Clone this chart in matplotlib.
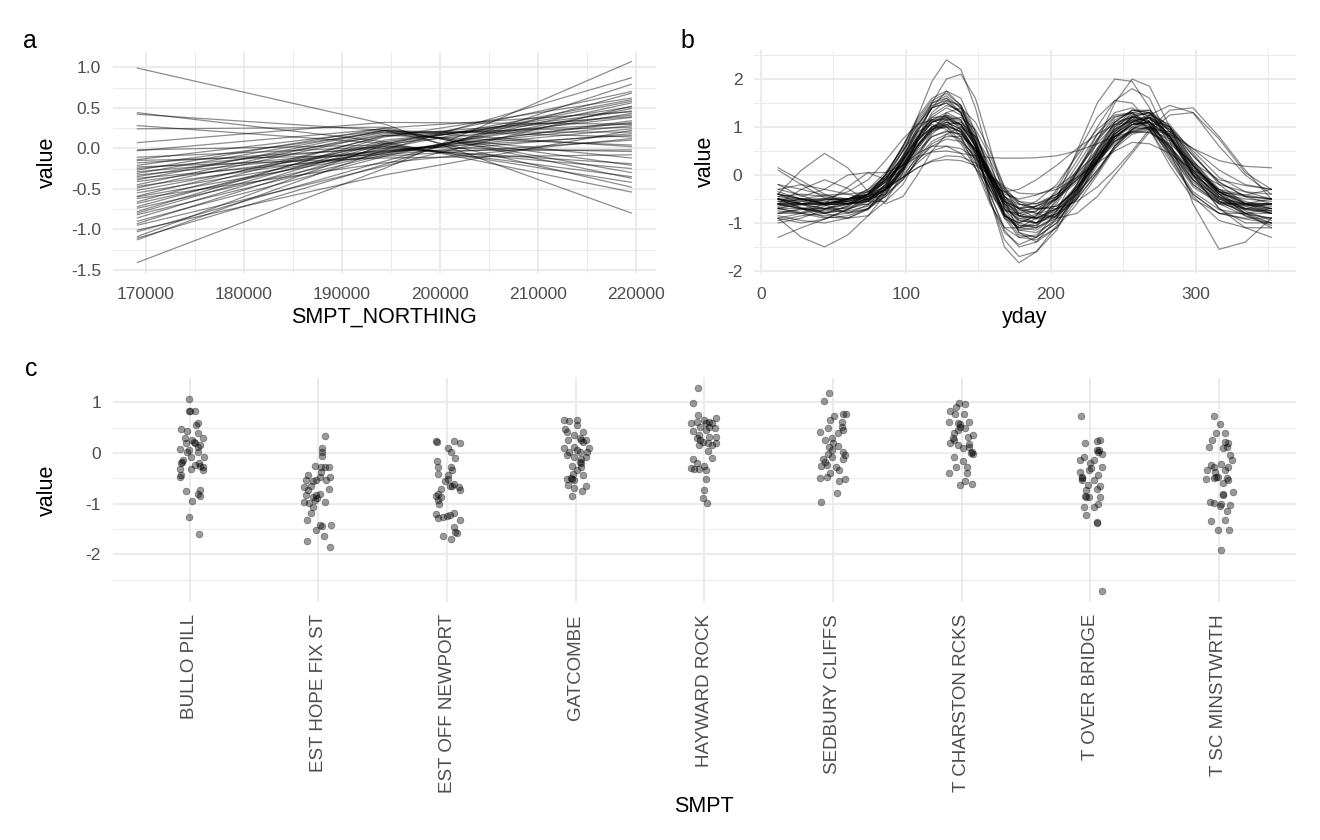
import matplotlib.pyplot as plt
from matplotlib.ticker import MultipleLocator, FormatStrFormatter

plt.rcParams['font.family'] = ['Liberation Sans', 'DejaVu Sans']
plt.rcParams['axes.unicode_minus'] = False

# panel a: smooth of SMPT_NORTHING, one row per draw (left, middle, right)
northing = [169150, 194350, 219550]
northing_lines = [
    [-1.41, -0.25, 1.07], [-1.13, -0.02, 0.87], [-1.11, -0.20, 0.79],
    [-1.09, 0.05, 0.70], [-1.03, -0.16, 0.68], [-1.01, -0.33, 0.22],
    [-0.95, -0.22, 0.52], [-0.93, 0.03, 0.60], [-0.90, -0.10, 0.56],
    [-0.86, 0.06, 0.51], [-0.82, -0.08, 0.49], [-0.80, 0.08, 0.46],
    [-0.78, 0.14, 0.62], [-0.74, -0.06, 0.43], [-0.72, 0.10, 0.41],
    [-0.68, 0.00, 0.58], [-0.66, 0.16, 0.39], [-0.62, -0.18, 0.12],
    [-0.60, -0.06, 0.34], [-0.59, 0.15, 0.30], [-0.55, -0.04, 0.28],
    [-0.52, 0.05, 0.38], [-0.49, 0.18, 0.26], [-0.47, -0.05, 0.24],
    [-0.45, 0.20, 0.20], [-0.41, -0.02, 0.16], [-0.39, 0.22, 0.14],
    [-0.37, -0.10, 0.10], [-0.35, 0.16, 0.04], [-0.33, -0.04, 0.32],
    [-0.31, 0.22, 0.02], [-0.29, -0.03, -0.02], [-0.27, 0.25, 0.45],
    [-0.25, 0.02, -0.04], [-0.23, -0.12, -0.08], [-0.21, 0.20, -0.12],
    [-0.18, 0.00, -0.19], [-0.15, -0.08, 0.18], [-0.14, 0.22, -0.21],
    [-0.11, 0.02, -0.25], [-0.03, 0.24, -0.30], [-0.02, 0.04, -0.35],
    [0.07, 0.32, 0.30], [0.24, 0.26, -0.37], [0.28, 0.06, -0.42],
    [0.42, 0.22, -0.48], [0.44, 0.08, -0.54], [0.99, 0.30, -0.80],
]

# panel b: smooth of yday, one row per draw
yday = [12, 28, 44, 60, 74, 86, 98, 108, 118, 128, 138, 148, 158, 168,
        178, 190, 204, 218, 232, 244, 256, 268, 282, 298, 316, 334, 352]
yday_lines = [
    [-0.7, -0.8, -0.9, -0.85, -0.7, -0.3, 0.4, 1.2, 1.95, 2.4, 2.2, 1.4, 0.3, -0.7, -1.2, -1.3, -1.0, -0.4, 0.4, 1.0, 1.35, 1.3, 0.8, 0.0, -0.55, -0.8, -0.9],
    [-0.5, -0.6, -0.7, -0.7, -0.6, -0.35, 0.1, 0.7, 1.5, 2.0, 2.1, 1.6, 0.6, -0.5, -1.2, -1.4, -1.1, -0.5, 0.3, 0.9, 1.2, 1.3, 1.0, 0.3, -0.3, -0.6, -0.8],
    [-0.4, -0.5, -0.6, -0.55, -0.4, -0.1, 0.4, 0.9, 1.4, 1.75, 1.6, 0.9, 0.0, -0.8, -1.15, -1.1, -0.5, 0.5, 1.5, 2.0, 1.95, 1.4, 0.6, -0.1, -0.55, -0.7, -0.6],
    [-0.6, -0.7, -0.8, -0.65, -0.4, 0.0, 0.6, 1.1, 1.5, 1.6, 1.3, 0.6, -0.5, -1.5, -1.83, -1.6, -1.05, -0.3, 0.5, 1.1, 1.35, 1.35, 0.9, 0.2, -0.4, -0.8, -1.0],
    [-0.3, -0.2, -0.3, -0.4, -0.5, -0.4, -0.1, 0.3, 0.65, 0.8, 0.8, 0.55, 0.1, -0.35, -0.6, -0.7, -0.7, -0.55, -0.25, 0.1, 0.5, 0.95, 1.35, 1.4, 0.8, 0.1, -0.5],
    [-0.9, -0.8, -0.65, -0.5, -0.4, -0.25, -0.05, 0.15, 0.3, 0.4, 0.38, 0.25, 0.0, -0.25, -0.38, -0.4, -0.3, -0.05, 0.25, 0.5, 0.68, 0.65, 0.45, 0.1, -0.2, -0.35, -0.4],
    [-0.4, 0.1, 0.45, 0.15, -0.35, -0.6, -0.45, 0.0, 0.5, 0.85, 1.0, 0.8, 0.3, -0.3, -0.7, -0.9, -0.75, -0.3, 0.25, 0.75, 1.05, 1.1, 0.75, 0.15, -0.3, -0.55, -0.7],
    [-0.9, -1.3, -1.5, -1.25, -0.85, -0.4, 0.15, 0.6, 1.0, 1.2, 1.05, 0.6, -0.05, -0.65, -0.95, -1.0, -0.7, -0.2, 0.4, 0.9, 1.2, 1.1, 0.55, -0.1, -0.6, -0.85, -1.0],
    [-0.5, -0.6, -0.6, -0.5, -0.4, -0.15, 0.3, 0.75, 1.1, 1.2, 1.05, 0.6, 0.0, -0.55, -0.8, -0.75, -0.35, 0.3, 1.0, 1.55, 1.8, 1.6, 0.7, -0.6, -1.55, -1.4, -0.9],
    [-0.6, -0.7, -0.7, -0.6, -0.45, -0.1, 0.35, 0.8, 1.15, 1.3, 1.15, 0.6, -0.2, -0.85, -1.1, -1.15, -0.85, -0.2, 0.7, 1.5, 2.0, 1.85, 1.0, 0.0, -0.7, -1.0, -1.0],
    [-0.55, -0.6, -0.62, -0.6, -0.5, -0.22, 0.22, 0.62, 0.95, 1.1, 0.95, 0.5, -0.05, -0.4, -0.5, -0.42, -0.25, 0.05, 0.45, 0.85, 1.1, 1.02, 0.5, -0.1, -0.48, -0.6, -0.62],
    [-0.6, -0.5, -0.55, -0.6, -0.4, 0.0, 0.5, 0.9, 1.05, 0.95, 0.65, 0.15, -0.4, -0.75, -0.8, -0.65, -0.4, 0.0, 0.55, 0.95, 1.15, 1.05, 0.6, 0.0, -0.35, -0.45, -0.5],
    [-0.7, -0.7, -0.78, -0.75, -0.65, -0.45, -0.05, 0.4, 0.9, 1.3, 1.4, 1.1, 0.5, -0.25, -0.85, -1.0, -0.8, -0.4, 0.1, 0.55, 0.85, 0.95, 0.75, 0.2, -0.35, -0.65, -0.8],
    [-0.4, -0.5, -0.5, -0.5, -0.45, -0.3, 0.05, 0.45, 0.8, 0.9, 0.85, 0.55, 0.05, -0.45, -0.72, -0.8, -0.72, -0.4, 0.1, 0.6, 0.95, 1.1, 0.95, 0.4, -0.15, -0.45, -0.5],
    [-0.8, -0.7, -0.62, -0.6, -0.52, -0.25, 0.3, 0.9, 1.4, 1.6, 1.4, 0.75, -0.1, -0.8, -1.1, -1.0, -0.55, 0.1, 0.75, 1.2, 1.3, 1.05, 0.35, -0.4, -0.8, -0.9, -0.9],
    [-0.2, -0.3, -0.42, -0.5, -0.45, -0.3, -0.05, 0.25, 0.5, 0.6, 0.55, 0.35, 0.0, -0.35, -0.55, -0.6, -0.45, -0.1, 0.35, 0.7, 0.88, 0.98, 0.9, 0.55, 0.1, -0.2, -0.3],
    [0.1, -0.2, -0.48, -0.6, -0.55, -0.3, 0.2, 0.7, 1.0, 1.1, 0.95, 0.5, -0.1, -0.6, -0.85, -0.9, -0.82, -0.5, 0.05, 0.6, 0.9, 1.0, 0.7, 0.1, -0.35, -0.42, -0.3],
    [-1.0, -0.9, -0.72, -0.52, -0.3, 0.05, 0.55, 1.05, 1.4, 1.5, 1.3, 0.7, -0.1, -0.85, -1.05, -1.05, -0.6, 0.05, 0.75, 1.1, 1.2, 0.95, 0.3, -0.4, -0.8, -0.92, -1.0],
    [-0.6, -0.62, -0.7, -0.6, -0.4, 0.0, 0.6, 1.2, 1.6, 1.75, 1.45, 0.6, -0.4, -1.1, -1.3, -1.25, -0.9, -0.35, 0.3, 0.8, 1.05, 1.1, 0.8, 0.1, -0.55, -0.8, -0.8],
    [-0.5, -0.68, -0.8, -0.65, -0.4, -0.05, 0.35, 0.75, 0.98, 1.0, 0.8, 0.3, -0.2, -0.35, -0.3, -0.1, 0.2, 0.55, 0.85, 1.05, 1.1, 0.95, 0.45, -0.25, -0.6, -0.62, -0.6],
    [-0.6, -0.3, -0.1, -0.28, -0.55, -0.55, -0.2, 0.35, 0.85, 1.1, 1.05, 0.65, 0.05, -0.5, -0.85, -0.9, -0.7, -0.25, 0.35, 0.85, 1.12, 1.2, 0.8, 0.05, -0.45, -0.7, -0.7],
    [-0.7, -0.78, -0.6, -0.25, 0.05, 0.05, 0.2, 0.55, 0.9, 1.05, 1.1, 0.8, 0.2, -0.45, -0.8, -0.9, -0.7, -0.25, 0.25, 0.7, 0.92, 1.0, 0.8, 0.2, -0.35, -0.58, -0.6],
    [-0.4, -0.6, -0.8, -0.9, -0.85, -0.55, 0.05, 0.75, 1.3, 1.55, 1.45, 0.9, 0.05, -0.7, -1.05, -1.1, -0.9, -0.4, 0.3, 0.9, 1.22, 1.3, 0.9, 0.2, -0.35, -0.6, -0.7],
    [-0.8, -0.8, -0.72, -0.62, -0.5, -0.3, -0.05, 0.15, 0.28, 0.32, 0.3, 0.2, 0.0, -0.3, -0.55, -0.7, -0.65, -0.3, 0.3, 0.8, 1.05, 1.1, 0.8, 0.15, -0.4, -0.7, -0.8],
    [-0.6, -0.6, -0.6, -0.5, -0.35, 0.0, 0.6, 1.15, 1.55, 1.7, 1.45, 0.8, -0.05, -0.85, -1.25, -1.3, -1.0, -0.45, 0.25, 0.8, 1.1, 1.2, 0.85, 0.1, -0.5, -0.72, -0.8],
    [-0.5, -0.5, -0.42, -0.4, -0.35, -0.15, 0.25, 0.65, 0.95, 1.02, 0.9, 0.5, 0.0, -0.45, -0.68, -0.8, -0.9, -0.8, -0.45, 0.0, 0.45, 0.9, 1.25, 1.3, 0.75, 0.05, -0.3],
    [-0.9, -1.0, -0.92, -0.72, -0.45, -0.05, 0.5, 0.95, 1.2, 1.22, 0.95, 0.3, -0.55, -1.2, -1.45, -1.3, -0.75, 0.05, 0.85, 1.3, 1.4, 1.2, 0.45, -0.45, -0.95, -1.1, -1.1],
    [-0.3, -0.42, -0.62, -0.8, -0.72, -0.4, 0.1, 0.6, 0.92, 1.0, 0.92, 0.55, 0.0, -0.45, -0.62, -0.6, -0.4, -0.05, 0.4, 0.75, 0.9, 0.9, 0.6, 0.05, -0.3, -0.42, -0.5],
    [-1.3, -1.1, -0.92, -0.72, -0.52, -0.2, 0.35, 0.95, 1.4, 1.5, 1.3, 0.6, -0.5, -1.35, -1.7, -1.6, -1.15, -0.35, 0.5, 1.05, 1.25, 1.3, 0.95, 0.25, -0.4, -0.8, -1.1],
    [-0.6, -0.6, -0.52, -0.5, -0.5, -0.32, 0.1, 0.6, 1.0, 1.15, 1.2, 0.95, 0.4, -0.25, -0.6, -0.72, -0.65, -0.3, 0.3, 0.8, 1.05, 1.2, 1.0, 0.4, -0.15, -0.45, -0.6],
    [-0.5, -0.7, -0.88, -0.9, -0.72, -0.3, 0.35, 1.0, 1.5, 1.65, 1.4, 0.7, -0.2, -0.85, -1.0, -0.85, -0.5, 0.05, 0.7, 1.15, 1.3, 1.25, 0.8, 0.05, -0.45, -0.62, -0.7],
    [-0.4, -0.5, -0.6, -0.5, -0.3, -0.05, 0.2, 0.38, 0.48, 0.5, 0.45, 0.4, 0.36, 0.35, 0.35, 0.36, 0.4, 0.5, 0.65, 0.8, 0.9, 0.88, 0.65, 0.25, -0.1, -0.22, -0.3],
    [-0.7, -0.6, -0.52, -0.5, -0.4, -0.1, 0.4, 0.85, 1.15, 1.15, 0.8, 0.15, -0.6, -1.1, -1.1, -0.9, -0.45, 0.2, 0.85, 1.22, 1.28, 0.95, 0.2, -0.5, -0.8, -0.8, -0.7],
    [-0.5, -0.6, -0.62, -0.6, -0.55, -0.3, 0.15, 0.7, 1.1, 1.25, 1.15, 0.7, 0.05, -0.55, -0.85, -0.92, -0.85, -0.5, 0.05, 0.6, 1.0, 1.2, 0.95, 0.25, -0.35, -0.6, -0.6],
    [0.15, -0.12, -0.4, -0.58, -0.62, -0.4, 0.15, 0.7, 1.1, 1.22, 1.12, 0.65, 0.0, -0.6, -0.9, -1.0, -0.85, -0.3, 0.45, 1.0, 1.22, 1.12, 0.55, -0.2, -0.58, -0.6, -0.5],
    [-0.8, -0.72, -0.7, -0.78, -0.7, -0.45, -0.1, 0.3, 0.6, 0.75, 0.7, 0.4, -0.1, -0.55, -0.7, -0.55, -0.2, 0.4, 0.95, 1.25, 1.3, 1.05, 0.4, -0.35, -0.72, -0.82, -0.9],
    [-0.65, -0.55, -0.5, -0.5, -0.45, -0.25, 0.1, 0.5, 0.8, 0.92, 0.85, 0.5, -0.05, -0.5, -0.7, -0.65, -0.45, -0.1, 0.3, 0.65, 0.95, 1.25, 1.45, 1.3, 0.6, 0.0, -0.4],
    [-0.2, -0.45, -0.3, 0.0, 0.05, -0.1, 0.1, 0.55, 0.95, 1.15, 1.05, 0.6, -0.05, -0.65, -0.95, -1.0, -0.8, -0.35, 0.3, 0.85, 1.2, 1.2, 0.75, 0.0, -0.5, -0.7, -0.75],
    [-0.45, -0.52, -0.58, -0.55, -0.42, -0.15, 0.3, 0.72, 1.0, 1.05, 0.88, 0.45, -0.1, -0.55, -0.7, -0.65, -0.5, -0.15, 0.3, 0.7, 0.95, 1.0, 0.85, 0.55, 0.3, 0.18, 0.15],
    [-0.75, -0.8, -0.85, -0.8, -0.62, -0.25, 0.3, 0.8, 1.15, 1.25, 1.05, 0.45, -0.4, -1.15, -1.5, -1.4, -0.9, -0.2, 0.55, 1.1, 1.35, 1.3, 0.8, 0.0, -0.7, -1.1, -1.3],
    [-0.35, -0.5, -0.6, -0.52, -0.35, -0.1, 0.2, 0.45, 0.6, 0.6, 0.45, 0.15, -0.25, -0.7, -0.92, -0.82, -0.45, 0.1, 0.65, 1.05, 1.22, 1.1, 0.6, -0.05, -0.5, -0.62, -0.65],
    [-0.55, -0.52, -0.5, -0.35, -0.1, 0.3, 0.75, 1.05, 1.15, 1.0, 0.7, 0.25, -0.3, -0.72, -0.85, -0.75, -0.5, -0.1, 0.4, 0.8, 1.0, 0.95, 0.55, 0.0, -0.4, -0.5, -0.55],
    [-0.68, -0.62, -0.58, -0.6, -0.55, -0.3, 0.15, 0.6, 0.95, 1.05, 0.9, 0.4, -0.3, -0.85, -1.0, -0.85, -0.3, 0.45, 1.2, 1.55, 1.5, 1.1, 0.45, -0.2, -0.6, -0.72, -0.75],
    [-0.95, -0.85, -0.8, -0.72, -0.55, -0.2, 0.3, 0.78, 1.1, 1.18, 1.0, 0.45, -0.3, -0.9, -1.1, -1.05, -0.75, -0.25, 0.35, 0.85, 1.15, 1.18, 0.85, 0.2, -0.45, -0.85, -1.05],
    [-0.62, -0.7, -0.75, -0.68, -0.5, -0.1, 0.5, 1.05, 1.45, 1.55, 1.3, 0.7, -0.1, -0.8, -1.15, -1.2, -0.95, -0.45, 0.2, 0.75, 1.1, 1.25, 1.05, 0.45, -0.2, -0.6, -0.75],
    [-0.45, -0.4, -0.45, -0.55, -0.5, -0.3, 0.0, 0.35, 0.7, 0.85, 0.75, 0.35, -0.2, -0.6, -0.75, -0.7, -0.5, -0.05, 0.5, 0.95, 1.15, 1.0, 0.5, -0.15, -0.55, -0.65, -0.6],
    [-0.85, -0.95, -1.0, -0.9, -0.7, -0.35, 0.2, 0.75, 1.25, 1.45, 1.35, 0.85, 0.1, -0.6, -1.0, -1.1, -0.85, -0.3, 0.4, 0.95, 1.3, 1.35, 1.0, 0.3, -0.35, -0.75, -0.95],
    [-0.5, -0.55, -0.6, -0.55, -0.45, -0.2, 0.25, 0.75, 1.2, 1.4, 1.25, 0.7, -0.15, -0.9, -1.3, -1.35, -1.1, -0.6, 0.0, 0.55, 0.95, 1.15, 1.0, 0.5, -0.05, -0.35, -0.5],
]

# panel c: site effects, jittered horizontally
sites = ['BULLO PILL', 'EST HOPE FIX ST', 'EST OFF NEWPORT', 'GATCOMBE',
         'HAYWARD ROCK', 'SEDBURY CLIFFS', 'T CHARSTON RCKS', 'T OVER BRIDGE',
         'T SC MINSTWRTH']
site_values = [
    [1.06, 0.83, 0.83, 0.82, 0.59, 0.55, 0.47, 0.44, 0.39, 0.29, 0.30, 0.26, 0.20, 0.19,
     0.16, 0.12, 0.08, 0.06, 0.03, 0.03, -0.07, -0.08, -0.17, -0.19, -0.20, -0.24, -0.26,
     -0.28, -0.32, -0.32, -0.34, -0.43, -0.47, -0.74, -0.72, -0.80, -0.85, -0.94, -1.27,
     -1.60, 0.22, -0.14],
    [0.34, 0.09, 0.03, -0.06, -0.26, -0.28, -0.43, -0.37, -0.47, -0.47, -0.53, -0.53, -0.53,
     -0.66, -0.65, -0.70, -0.73, -0.80, -0.83, -0.86, -0.96, -0.99, -0.96, -0.93, -1.18,
     -1.32, -1.42, -1.44, -1.42, -1.52, -1.63, -1.74, -1.85, -1.06, -0.89, -0.83, -0.28,
     -0.56, -0.28],
    [0.24, 0.22, 0.24, 0.20, 0.09, 0.03, -0.10, -0.15, -0.28, -0.27, -0.33, -0.41, -0.52,
     -0.56, -0.61, -0.65, -0.66, -0.73, -0.70, -0.80, -0.85, -0.87, -1.00, -1.20, -1.29,
     -1.24, -1.22, -1.19, -1.33, -1.45, -1.58, -1.64, -1.70, -1.55, -1.26, -0.93, -0.43,
     -0.65],
    [0.66, 0.64, 0.65, 0.47, 0.42, 0.55, 0.42, 0.35, 0.26, 0.29, 0.26, 0.22, 0.09, 0.12,
     0.09, 0.03, 0.03, 0.03, -0.04, -0.07, -0.12, -0.07, -0.17, -0.26, -0.27, -0.33, -0.41,
     -0.43, -0.52, -0.52, -0.53, -0.63, -0.68, -0.65, -0.75, -0.85, -0.20, 0.06, -0.50,
     0.26],
    [1.28, 0.99, 0.75, 0.60, 0.62, 0.65, 0.62, 0.70, 0.59, 0.44, 0.35, 0.45, 0.49, 0.32,
     0.32, 0.29, 0.22, 0.19, 0.16, 0.16, 0.19, 0.05, -0.10, -0.12, -0.19, -0.26, -0.32,
     -0.32, -0.33, -0.52, -0.73, -0.89, -0.98, 0.26, 0.52, -0.30, 0.60, 0.52],
    [1.19, 1.03, 0.73, 0.65, 0.78, 0.77, 0.62, 0.42, 0.49, 0.39, 0.45, 0.26, 0.29, 0.12,
     0.14, 0.03, -0.12, -0.01, -0.12, -0.07, -0.26, -0.24, -0.28, -0.33, -0.40, -0.47,
     -0.50, -0.52, -0.56, -0.78, -0.96, 0.06, 0.52, 0.19, -0.04, -0.17],
    [0.99, 0.97, 0.90, 0.82, 0.78, 0.77, 0.62, 0.60, 0.62, 0.52, 0.49, 0.39, 0.35, 0.29,
     0.16, 0.18, 0.19, 0.09, 0.03, -0.07, -0.15, -0.28, -0.28, -0.39, -0.39, -0.55, -0.63,
     -0.61, -0.02, 0.32, 0.45, 0.26, 0.12, 0.01, 0.57],
    [0.74, 0.19, 0.24, 0.26, 0.06, -0.01, -0.07, -0.14, -0.14, -0.20, -0.27, -0.37, -0.33,
     -0.47, -0.43, -0.53, -0.65, -0.63, -0.70, -0.85, -0.87, -0.87, -1.06, -1.07, -1.00,
     -1.22, -1.37, -2.73, -0.53, -0.30, 0.06, -0.73, -0.50, -0.86, 0.03, -1.38],
    [0.74, 0.57, 0.40, 0.40, 0.26, 0.22, 0.19, 0.12, 0.09, -0.04, -0.14, -0.24, -0.22,
     -0.28, -0.33, -0.37, -0.33, -0.52, -0.50, -0.47, -0.50, -0.60, -0.76, -0.80, -0.96,
     -0.99, -1.00, -1.02, -1.04, -1.14, -1.32, -1.35, -1.52, -1.52, -1.91, -0.47, -0.53,
     -0.27, 0.12, -0.83],
]
site_jitter = [
    [-0.01, -0.01, 0.00, 0.04, 0.06, 0.05, -0.07, -0.02, 0.06, -0.04, 0.10, 0.02, -0.03,
     0.04, 0.08, 0.06, -0.08, -0.01, 0.06, -0.02, 0.11, 0.01, -0.06, -0.07, 0.07, 0.04,
     0.08, 0.10, -0.08, 0.01, 0.10, -0.07, -0.08, -0.03, 0.08, 0.06, 0.08, 0.02, -0.01,
     0.07, 0.03, -0.05],
    [0.05, 0.03, 0.03, 0.03, -0.03, 0.05, -0.08, 0.02, 0.09, 0.01, -0.10, -0.02, 0.06,
     -0.11, -0.06, 0.08, -0.08, 0.01, -0.02, -0.04, -0.11, -0.07, 0.05, -0.03, -0.06,
     -0.09, 0.01, 0.03, 0.10, -0.02, 0.04, -0.09, 0.09, -0.04, -0.01, -0.10, 0.02,
     -0.04, 0.08],
    [-0.09, -0.08, 0.05, 0.10, 0.01, 0.03, 0.06, -0.08, 0.03, -0.07, 0.04, -0.07, 0.01,
     -0.02, 0.05, 0.02, 0.09, 0.10, -0.05, -0.07, -0.09, -0.05, -0.06, -0.09, -0.07,
     0.00, 0.02, 0.05, 0.10, 0.05, 0.08, -0.03, 0.03, 0.06, -0.03, -0.07, 0.01, 0.04],
    [-0.09, -0.05, 0.01, -0.08, -0.07, 0.01, 0.06, -0.01, -0.06, 0.03, 0.08, 0.06, -0.09,
     -0.01, 0.10, -0.05, 0.03, 0.09, -0.07, -0.01, 0.04, 0.08, 0.03, -0.03, 0.04, 0.01,
     -0.02, 0.06, -0.07, -0.03, -0.01, -0.06, -0.01, 0.08, 0.05, -0.03, 0.04, 0.01,
     -0.04, 0.04],
    [-0.05, -0.09, -0.05, -0.10, -0.06, 0.00, 0.04, 0.09, 0.06, -0.09, -0.04, 0.01, 0.08,
     0.04, 0.09, -0.06, -0.01, 0.03, 0.06, -0.04, 0.09, 0.03, 0.06, -0.09, -0.06, 0.00,
     -0.08, -0.04, 0.01, 0.01, 0.00, -0.01, 0.02, -0.03, 0.04, -0.10, 0.01, -0.03],
    [-0.03, -0.07, 0.01, -0.02, 0.08, 0.10, 0.07, -0.10, -0.04, 0.04, 0.08, -0.06, -0.01,
     -0.03, 0.04, 0.08, 0.08, -0.04, -0.08, -0.01, -0.09, -0.05, 0.02, 0.05, -0.02, -0.05,
     -0.10, 0.09, 0.05, 0.03, -0.09, -0.01, 0.07, 0.00, 0.09, -0.06],
    [-0.02, 0.03, -0.04, -0.09, -0.05, 0.02, -0.10, -0.03, 0.06, -0.01, 0.03, -0.06, 0.09,
     -0.07, -0.03, 0.06, -0.09, 0.01, 0.08, -0.06, 0.01, -0.04, 0.04, 0.04, -0.10, 0.03,
     -0.01, 0.08, 0.09, 0.05, -0.03, -0.06, 0.06, 0.07, -0.01],
    [-0.07, -0.04, 0.05, 0.08, 0.07, 0.09, -0.05, -0.08, 0.03, 0.00, 0.09, -0.08, -0.01,
     -0.06, 0.06, 0.03, 0.08, -0.02, 0.05, -0.04, -0.01, 0.08, -0.05, 0.03, 0.06, -0.03,
     0.05, 0.09, -0.06, 0.01, 0.05, -0.03, -0.06, -0.03, 0.06, 0.05],
    [-0.04, 0.01, -0.02, 0.05, -0.05, 0.05, 0.07, -0.08, 0.03, 0.09, 0.10, -0.06, 0.02,
     0.07, -0.09, -0.03, 0.05, -0.10, -0.04, -0.01, 0.06, 0.03, 0.11, 0.03, -0.07, -0.04,
     0.02, 0.09, 0.01, 0.06, 0.05, -0.06, -0.01, 0.08, 0.02, -0.02, 0.07, -0.04, 0.06,
     0.03],
]

GRID = '#EBEBEB'
TICK = '#4D4D4D'
W, H = 1320, 840

fig = plt.figure(figsize=(13.2, 8.4), dpi=100)


def box(left, top, right, bottom):
    # pixel box -> figure fraction
    return [left / W, 1 - bottom / H, (right - left) / W, (bottom - top) / H]


def style(ax, xpad, ypad):
    for s in ax.spines.values():
        s.set_visible(False)
    ax.tick_params(which='both', length=0, labelsize=12.5, labelcolor=TICK)
    ax.tick_params(axis='x', pad=xpad)
    ax.tick_params(axis='y', pad=ypad)
    ax.grid(which='major', color=GRID, lw=1.4)
    ax.grid(which='minor', color=GRID, lw=0.7)
    ax.set_axisbelow(True)


# a
ax_a = fig.add_axes(box(112.7, 51.6, 656, 272.5))
for vals in northing_lines:
    ax_a.plot(northing, vals, color='black', alpha=0.45, lw=0.9)
ax_a.xaxis.set_major_locator(MultipleLocator(10000))
ax_a.xaxis.set_minor_locator(MultipleLocator(5000))
ax_a.xaxis.set_major_formatter(FormatStrFormatter('%d'))
ax_a.yaxis.set_major_locator(MultipleLocator(0.5))
ax_a.yaxis.set_minor_locator(MultipleLocator(0.25))
ax_a.yaxis.set_major_formatter(FormatStrFormatter('%.1f'))
style(ax_a, 10.5, 8.5)

# b
ax_b = fig.add_axes(box(753.5, 49.7, 1296, 272.9))
for vals in yday_lines:
    ax_b.plot(yday, vals, color='black', alpha=0.45, lw=0.9)
ax_b.xaxis.set_major_locator(MultipleLocator(100))
ax_b.xaxis.set_minor_locator(MultipleLocator(50))
ax_b.yaxis.set_major_locator(MultipleLocator(1))
ax_b.yaxis.set_minor_locator(MultipleLocator(0.5))
style(ax_b, 10.5, 8)

# c
ax_c = fig.add_axes(box(112.7, 378, 1296, 601.6))
for i, (vals, jit) in enumerate(zip(site_values, site_jitter)):
    xs = [i + j for j in jit]
    ax_c.scatter(xs, vals, s=24, color='black', alpha=0.4, lw=0.5, zorder=3)
ax_c.set_xlim(-0.6, len(sites) - 0.4)
ax_c.set_xticks(range(len(sites)))
ax_c.set_xticklabels(sites, rotation=90, ha='center', va='top')
ax_c.yaxis.set_major_locator(MultipleLocator(1))
ax_c.yaxis.set_minor_locator(MultipleLocator(0.5))
style(ax_c, 9, 8.5)
ax_c.tick_params(axis='x', labelsize=13.5)
ax_c.grid(which='minor', axis='x', visible=False)

# axis titles and tags
fs_title = 15.5
fig.text(47 / W, 1 - 162 / H, 'value', rotation=90, ha='center', va='center', fontsize=fs_title)
fig.text(705 / W, 1 - 161 / H, 'value', rotation=90, ha='center', va='center', fontsize=fs_title)
fig.text(47 / W, 1 - 490 / H, 'value', rotation=90, ha='center', va='center', fontsize=fs_title)
fig.text(384 / W, 1 - 323 / H, 'SMPT_NORTHING', ha='center', va='baseline', fontsize=fs_title)
fig.text(1025 / W, 1 - 323 / H, 'yday', ha='center', va='baseline', fontsize=fs_title)
fig.text(704 / W, 1 - 812 / H, 'SMPT', ha='center', va='baseline', fontsize=fs_title)
fig.text(23 / W, 1 - 48 / H, 'a', ha='left', va='baseline', fontsize=18)
fig.text(680 / W, 1 - 48 / H, 'b', ha='left', va='baseline', fontsize=18)
fig.text(25 / W, 1 - 376 / H, 'c', ha='left', va='baseline', fontsize=18)

fig.savefig('out.png', dpi=100, facecolor='white')
